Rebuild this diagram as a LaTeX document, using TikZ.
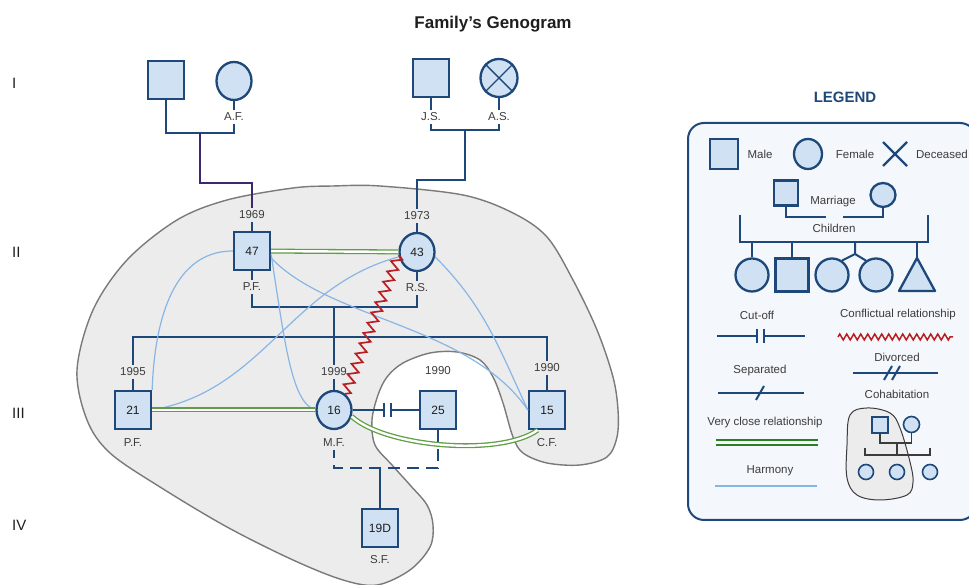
\documentclass[tikz,border=0pt]{standalone}
\usepackage{fontspec}
\setmainfont{Liberation Sans}
\usepackage{tikz}
\usetikzlibrary{shapes.geometric, decorations.pathmorphing}
\definecolor{navy}{RGB}{30,72,122}
\definecolor{fillblue}{RGB}{207,225,242}
\definecolor{harmony}{RGB}{135,182,230}
\definecolor{closegreen}{RGB}{95,158,68}
\definecolor{darkgreen}{RGB}{45,125,35}
\definecolor{conflict}{RGB}{185,30,35}
\definecolor{blobgray}{RGB}{236,236,236}
\definecolor{blobline}{RGB}{122,122,122}
\definecolor{linepurple}{RGB}{60,40,110}
\definecolor{legendbg}{RGB}{244,248,252}
\definecolor{txtgray}{RGB}{60,60,60}
\definecolor{txtdark}{RGB}{30,30,30}
\tikzstyle{male} = [rectangle, draw=navy, fill=fillblue, line width=2.3pt, minimum width=36pt, minimum height=38pt, inner sep=0pt, text=txtdark, font=\fontsize{12}{14}\selectfont]
\tikzstyle{female} = [ellipse, draw=navy, fill=fillblue, line width=2.3pt, minimum width=35pt, minimum height=38pt, inner sep=0pt, text=txtdark, font=\fontsize{12}{14}\selectfont]
\tikzstyle{lbl} = [inner sep=3pt, text=txtgray, font=\fontsize{11.5}{13}\selectfont]
\tikzstyle{lgd} = [inner sep=1pt, text=txtgray, font=\fontsize{11.5}{13}\selectfont]
\tikzstyle{gen} = [anchor=west, inner sep=0pt, text=txtdark, font=\fontsize{15}{18}\selectfont]
\tikzstyle{tie} = [draw=navy, line width=2pt]
\tikzstyle{ancestry} = [draw=linepurple, line width=2pt]
\tikzstyle{veryclose} = [draw=closegreen, line width=1.3pt, double=white, double distance=2.4pt]
\tikzstyle{harm} = [draw=harmony, line width=1.2pt]
\tikzstyle{conf} = [draw=conflict, line width=1.7pt, decorate, decoration={zigzag, segment length=11pt, amplitude=5pt}]
\tikzstyle{blob} = [draw=blobline, fill=blobgray, line width=1.4pt]
\tikzstyle{legendbox} = [draw=navy, fill=legendbg, line width=2pt, rounded corners=16pt]
\tikzstyle{cohabline} = [draw=txtgray, line width=1.3pt]

\begin{document}
\begin{tikzpicture}[x=1pt, y=1pt, node distance=36pt]
\useasboundingbox (0,0) rectangle (969,585);

% cohabitation area
\draw[blob] plot[smooth cycle, tension=0.55] coordinates {(293,397) (333,399) (380,399) (463,390) (513,372) (547,348) (573,305) (597,255) (613,208) (618,175) (617,148) (607,128) (580,120) (547,122) (523,132) (513,148) (503,182) (493,208) (480,225) (457,233) (430,232) (403,222) (387,208) (378,190) (372,165) (375,140) (392,120) (410,100) (427,80) (433,60) (430,38) (410,15) (377,0) (343,5) (293,25) (227,58) (160,98) (110,132) (87,165) (77,215) (93,275) (127,325) (177,365) (227,385)};

\node (title) [font=\bfseries\fontsize{17}{20}\selectfont, text=txtdark] at (493,561) {Family’s Genogram};

% generations
\foreach \g/\y in {I/502, II/333, III/172, IV/60}
    \node[gen] at (12,\y) {\g};

% generation I
\node (afh) [male] at (166,505) {};
\node (af) [female] at (234,504) {};
\node (js) [male] at (431,507) {};
\node (asd) [female, minimum width=37pt] at (499,507) {};
\draw[navy, line width=1.4pt] (asd.45) -- (asd.225) (asd.135) -- (asd.-45);
\node (afl) [lbl, below of=af] {A.F.};
\node (jsl) [lbl, below of=js, yshift=-3pt] {J.S.};
\node (asl) [lbl, below of=asd, yshift=-3pt] {A.S.};
\draw[tie] (af) -- (afl);
\draw[tie] (js) -- (jsl);
\draw[tie] (asd) -- (asl);
\coordinate (mI1) at (200,452);
\coordinate (mI2) at (465,455);
\draw[tie] (afh.south) |- (mI1) -| (afl.south);
\draw[tie] (jsl.south) |- (mI2) -| (asl.south);

% generation II
\node (pf47) [male] at (252,334) {47};
\node (rs43) [female] at (417,333) {43};
\node (y69) [lbl, above of=pf47] {1969};
\node (y73) [lbl, above of=rs43] {1973};
\node (pfl) [lbl, below of=pf47] {P.F.};
\node (rsl) [lbl, below of=rs43] {R.S.};
\draw[ancestry] (mI1) -- ++(0,-50) -| (y69.north);
\draw[tie] (mI2) -- ++(0,-50) -| (y73.north);
\draw[tie] (y69) -- (pf47);
\draw[tie] (y73) -- (rs43);
\draw[tie] (pf47) -- (pfl);
\draw[tie] (rs43) -- (rsl);
\coordinate (mII) at (334,278);
\coordinate (sib) at (334,248);
\draw[tie] (pfl.south) |- (mII) -| (rsl.south);
\draw[tie] (mII) -- (sib);

% generation III
\node (pf21) [male] at (133,175) {21};
\node (mf16) [female] at (334,175) {16};
\node (x25) [male] at (438,175) {25};
\node (cf15) [male] at (547,175) {15};
\node (y95) [lbl, above of=pf21, yshift=2pt] {1995};
\node (y99) [lbl, above of=mf16, yshift=2pt] {1999};
\node (y90a) [lbl, above of=x25, yshift=3pt] {1990};
\node (y90b) [lbl, above of=cf15, yshift=6pt] {1990};
\node (pf21l) [lbl, below of=pf21, yshift=3pt] {P.F.};
\node (mfl) [lbl, below of=mf16, yshift=3pt] {M.F.};
\node (cfl) [lbl, below of=cf15, yshift=3pt] {C.F.};
\draw[tie] (y95.north) |- (sib) -| (y90b.north);
\draw[tie] (sib) -- (y99.north);
\draw[tie] (y95) -- (pf21);
\draw[tie] (y99) -- (mf16);
\draw[tie] (y90b) -- (cf15);

% cut-off
\coordinate (cutA) at (384,175);
\coordinate (cutB) at (391,175);
\draw[tie] (mf16) -- (cutA) (cutB) -- (x25);
\draw[tie] ([yshift=-7pt]cutA) -- ([yshift=7pt]cutA) ([yshift=-7pt]cutB) -- ([yshift=7pt]cutB);

% generation IV
\node (sf19) [male] at (380,57) {19D};
\node (sfl) [lbl, below of=sf19, yshift=4pt] {S.F.};
\coordinate (dsh) at (380,117);
\draw[tie, dash pattern=on 12pt off 7pt, dash phase=4pt] (mfl.south) |- (dsh) -| (x25.south);
\draw[tie] (dsh) -- (sf19);

% relationships
\draw[harm] (pf47.west) to[out=180, in=88] (pf21.north east);
\draw[harm] (pf21.east) to[out=10, in=195] (rs43.195);
\draw[harm] (pf47.-20) .. controls (330,265) and (470,260) .. (cf15.west);
\draw[harm] (pf47.-10) .. controls (285,240) and (292,182) .. (mf16.west);
\draw[harm] (rs43.-15) to[out=-45, in=115] (cf15.west);
\draw[veryclose] (pf47) -- (rs43);
\draw[veryclose] (pf21) -- (mf16);
\draw[veryclose] (mf16.-20) .. controls (385,138) and (500,128) .. (cf15.-115);
\draw[conf] (rs43.190) -- (mf16.55);

% legend
\node (legtitle) [font=\bfseries\fontsize{15}{18}\selectfont, text=navy] at (845,488) {LEGEND};
\draw[legendbox] (688,65) rectangle (976,462);
\node (lgmale) [male, minimum width=28pt, minimum height=30pt] at (724,431) {};
\node [lgd] at (760,431) {Male};
\node (lgfemale) [female, minimum width=28pt, minimum height=30pt] at (808,431) {};
\node [lgd] at (855,431) {Female};
\draw[navy, line width=2.4pt] (883,419) -- (907,443) (883,443) -- (907,419);
\node [lgd] at (942,431) {Deceased};

\node (lgm) [male, minimum width=24pt, minimum height=25pt] at (786,392) {};
\node (lgw) [female, minimum width=25pt, minimum height=24pt] at (883,390) {};
\node [lgd] at (833,383) {Marriage};
\coordinate (lgmA) at (826,368);
\coordinate (lgmB) at (843,368);
\draw[tie] (lgm.south) |- (lgmA);
\draw[tie] (lgmB) -| (lgw.south);
\draw[tie] (740,370) |- (928,343) -- (928,370);
\node [lgd] at (834,357) {Children};
\node (k1) [female, minimum width=33pt, minimum height=33pt] at (752,310) {};
\node (k2) [male, minimum width=33pt, minimum height=33pt] at (792,310) {};
\node (k3) [female, minimum width=33pt, minimum height=33pt] at (832,310) {};
\node (k4) [female, minimum width=33pt, minimum height=33pt] at (876,310) {};
\draw[tie, line width=2.3pt, fill=fillblue, line join=round] (917,327) -- (935,294) -- (899,294) -- cycle;
\draw[tie] (752,343) -- (k1) (792,343) -- (k2) (917,343) -- (917,327);
\draw[tie] (855,343) -- (855,331) -- (k3.55) (855,331) -- (k4.125);

\node [lgd] at (757,270) {Cut-off};
\draw[tie] (717,249) -- (757,249) (764,249) -- (805,249);
\draw[tie] (757,242) -- (757,256) (764,242) -- (764,256);
\node [lgd] at (898,270) {Conflictual relationship};
\draw[conf, line width=1.5pt, decoration={zigzag, segment length=7pt, amplitude=3pt}] (838,248) -- (953,248);
\node [lgd] at (897,228) {Divorced};
\draw[tie] (853,212) -- (938,212);
\draw[tie] (884,205) -- (892,219) (892,205) -- (900,219);
\node [lgd] at (760,214) {Separated};
\draw[tie] (718,192) -- (804,192);
\draw[tie] (756,185) -- (764,199);
\node [lgd] at (897,191) {Cohabitation};
\draw[blob, line width=1pt, draw=txtgray] plot[smooth cycle, tension=0.6] coordinates {(850,170) (867,177) (890,172) (900,157) (910,123) (913,103) (907,90) (880,85) (857,90) (847,107) (847,140)};
\node (ch) [male, minimum width=16pt, minimum height=16pt, line width=1.6pt] at (880,160) {};
\node (cw) [female, minimum width=16pt, minimum height=16pt, line width=1.6pt] at (911.5,160.5) {};
\coordinate (chm) at (897,142);
\draw[cohabline] (ch.south) |- (chm) -| (cw.south);
\draw[cohabline] (chm) -- (897,130);
\draw[cohabline] (865,137) |- (930,130) -- (930,137);
\foreach \x in {866,897,930}
    \node[female, minimum width=15pt, minimum height=15pt, line width=1.6pt] at (\x,113) {};
\node [lgd] at (765,162) {Very close relationship};
\draw[draw=darkgreen, line width=1.8pt, double=legendbg, double distance=3.2pt] (716,142.5) -- (818,142.5);
\node [lgd] at (770,114) {Harmony};
\draw[harm, line width=1.8pt] (715,99) -- (817,99);
\end{tikzpicture}
\end{document}
